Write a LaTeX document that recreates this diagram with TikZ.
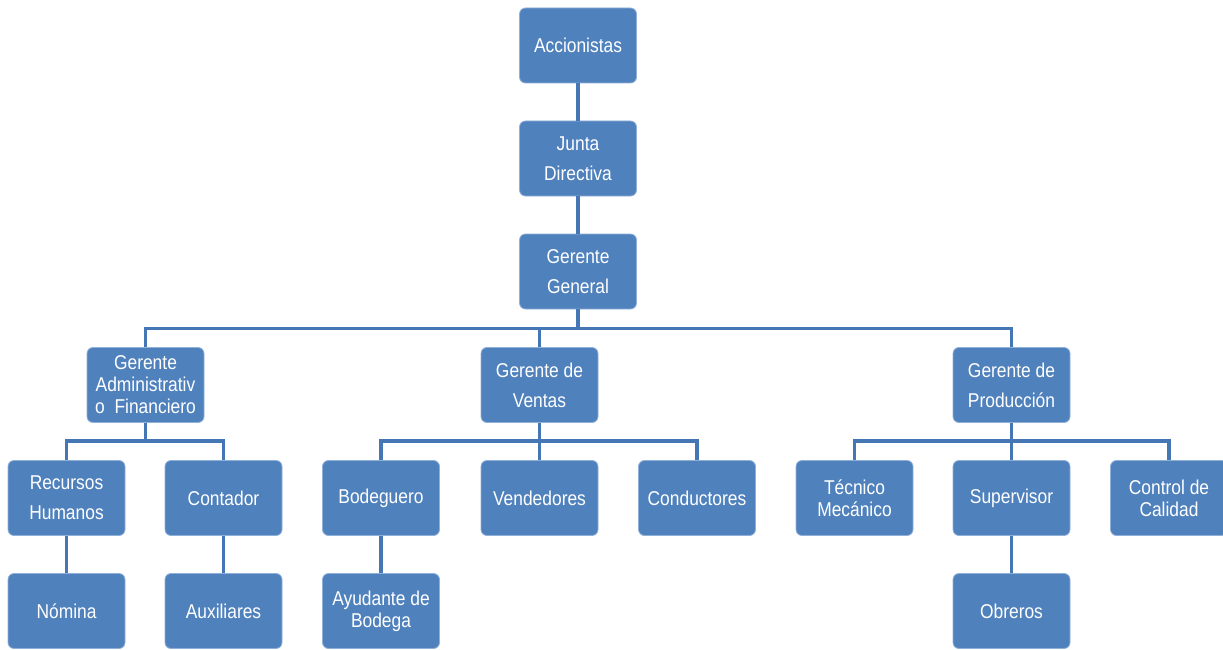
\documentclass[tikz,border=0pt]{standalone}
\usepackage{fontspec}
\setmainfont{Liberation Sans}[FakeStretch=0.87]
\definecolor{boxblue}{HTML}{4F81BD}
\definecolor{lineblue}{HTML}{4577B5}
\definecolor{edgeblue}{HTML}{8FB0D8}
\begin{document}
\begin{tikzpicture}[x=1pt,y=-1pt,
  box/.style={draw=edgeblue, line width=0.8pt, fill=boxblue, rounded corners=6pt,
    minimum width=117pt, minimum height=75pt, inner sep=0pt, text=white,
    align=center, font=\fontsize{20}{30}\selectfont},
  tight/.style={font=\fontsize{20}{22}\selectfont},
  conn/.style={draw=lineblue, line width=3.2pt}]
\useasboundingbox (0,0) rectangle (1223,650);
% level 0-2
\node[box] (acc) at (578,45.5) {Accionistas};
\node[box] (jun) at (578,158.5) {Junta\\Directiva};
\node[box] (gg)  at (578,271.5) {Gerente\\General};
% level 3
\node[box, tight] (gaf) at (145.5,385) {Gerente\\Administrativ\\o~~Financiero};
\node[box] (gv) at (539.5,385) {Gerente de\\Ventas};
\node[box] (gp)  at (1011.5,385) {Gerente de\\Producción};
% level 4
\node[box] (rh)  at (66.5,498) {Recursos\\Humanos};
\node[box] (con) at (223.5,498) {Contador};
\node[box] (bod) at (381,498) {Bodeguero};
\node[box] (ven) at (539.5,498) {Vendedores};
\node[box] (cond) at (697,498) {Conductores};
\node[box, tight] (tec) at (854.5,498) {Técnico\\Mecánico};
\node[box] (sup) at (1011.5,498) {Supervisor};
\node[box, tight] (cal) at (1169,498) {Control de\\Calidad};
% level 5
\node[box] (nom) at (66.5,611) {Nómina};
\node[box] (aux) at (223.5,611) {Auxiliares};
\node[box, tight] (ayu) at (381,611) {Ayudante de\\Bodega};
\node[box] (obr) at (1011.5,611) {Obreros};
% connectors
\draw[conn] (acc.south) -- (jun.north);
\draw[conn] (jun.south) -- (gg.north);
\draw[conn] (gg.south) -- ++(0,19) -| (gaf.north);
\draw[conn] (gg.south) -- ++(0,19) -| (gv.north);
\draw[conn] (gg.south) -- ++(0,19) -| (gp.north);
\draw[conn] (gaf.south) -- ++(0,18) -| (rh.north);
\draw[conn] (gaf.south) -- ++(0,18) -| (con.north);
\draw[conn] (gv.south) -- ++(0,18) -| (bod.north);
\draw[conn] (gv.south) -- (ven.north);
\draw[conn] (gv.south) -- ++(0,18) -| (cond.north);
\draw[conn] (gp.south) -- ++(0,18) -| (tec.north);
\draw[conn] (gp.south) -- (sup.north);
\draw[conn] (gp.south) -- ++(0,18) -| (cal.north);
\draw[conn] (rh.south) -- (nom.north);
\draw[conn] (con.south) -- (aux.north);
\draw[conn] (bod.south) -- (ayu.north);
\draw[conn] (sup.south) -- (obr.north);
\end{tikzpicture}
\end{document}
